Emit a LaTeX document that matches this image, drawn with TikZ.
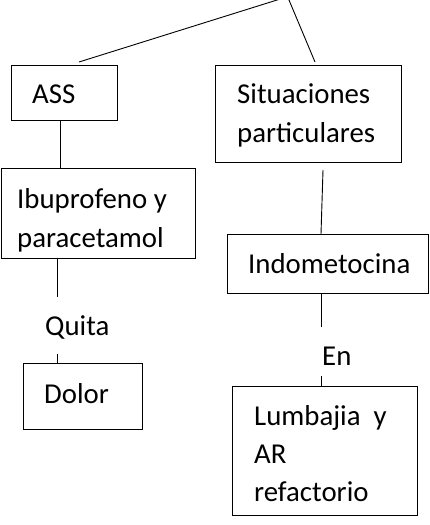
\documentclass[tikz,border=0pt]{standalone}
\usepackage{fontspec}
\setmainfont{Carlito}
\usetikzlibrary{calc}
\begin{document}
\begin{tikzpicture}[x=1pt,y=-1pt,
  box/.style={draw,line width=0.9pt,anchor=north west,inner sep=0pt},
  txt/.style={anchor=base west,inner sep=0pt,align=left,font=\fontsize{28.8}{39}\selectfont},
  conn/.style={line width=0.9pt}]
\useasboundingbox (0,0) rectangle (429,525);
% boxes
\node[box,minimum width=106pt,minimum height=55pt] (ass) at (11,65) {};
\node[box,minimum width=186pt,minimum height=97pt] (sit) at (215,65) {};
\node[box,minimum width=194pt,minimum height=90pt] (ibu) at (0.5,168) {};
\node[box,minimum width=201pt,minimum height=59pt] (ind) at (227,234) {};
\node[box,minimum width=119pt,minimum height=66pt] (dol) at (23,363) {};
\node[box,minimum width=185pt,minimum height=129pt] (lum) at (232,386) {};
% texts (base = baseline of last line)
\node[txt] (tass) at (32,103) {ASS};
\node[txt] (tsit) at (237,142) {Situaciones\\particulares};
\node[txt] (tibu) at (17,247) {Ibuprofeno y\\paracetamol};
\node[txt] (tind) at (248,273) {Indometocina};
\node[txt] (quita) at (45,335) {Quita};
\node[txt] (tdol) at (44,403) {Dolor};
\node[txt] (en) at (322,365) {En};
\node[txt,font=\fontsize{28.8}{38}\selectfont] (tlum) at (254,501) {Lumbajia\ \ y\\AR\\refactorio};
% connectors
\coordinate (apex) at (287.6,-3.3);
\coordinate (assin) at ($(ass.north west)+(68,-3)$);
\coordinate (sitin) at ($(sit.north west)+(100,-3)$);
\draw[conn] (apex) -- (assin);
\draw[conn] (apex) -- (sitin);
\draw[conn] ($(ass.south west)+(49,0)$) -- ($(ibu.north west)+(59.5,0)$);
\coordinate (qtop) at (57,297);
\coordinate (qbot) at (57,354);
\draw[conn] ($(ibu.south west)+(56.5,0)$) -- (qtop);
\draw[conn] (qbot) -- ($(dol.north west)+(34,0)$);
\coordinate (sitout) at (323,170);
\draw[conn] (sitout) -- ($(ind.north west)+(94,0)$);
\coordinate (etop) at (321,327);
\coordinate (ebot) at (321,376);
\draw[conn] ($(ind.south west)+(94,0)$) -- (etop);
\draw[conn] (ebot) -- ($(lum.north west)+(89,0)$);
\end{tikzpicture}
\end{document}
